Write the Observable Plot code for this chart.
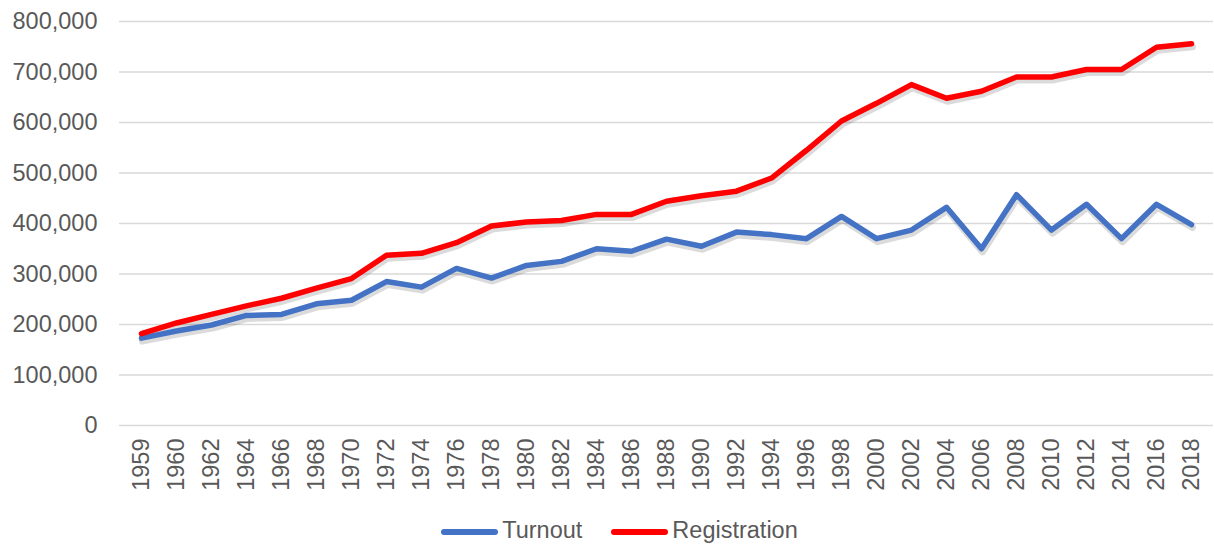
<!DOCTYPE html>
<html>
<head>
<meta charset="utf-8">
<script src="https://cdn.jsdelivr.net/npm/d3@7"></script>
<script src="https://cdn.jsdelivr.net/npm/@observablehq/plot@0.6"></script>
<style>
  html, body { margin: 0; padding: 0; background: #fff; }
  #chart { width: 1214px; }
  .legend { display: flex; justify-content: center; align-items: center; box-sizing: border-box; width: 1214px; height: 40px; padding-top: 10px; padding-left: 25px; font-family: "Liberation Sans", Arial, sans-serif; font-size: 23.5px; color: #595959; }
  .legend .item { display: flex; align-items: center; margin: 0 14.5px; }
  .legend .sw { width: 57px; height: 6px; border-radius: 3px; margin-right: 4px; margin-top: 3px; }
</style>
</head>
<body>
<div id="chart"></div>
<script>
const years = ["1959","1960","1962","1964","1966","1968","1970","1972","1974","1976","1978","1980","1982","1984","1986","1988","1990","1992","1994","1996","1998","2000","2002","2004","2006","2008","2010","2012","2014","2016","2018"];
const turnout = [173000,187000,199000,218000,220000,241000,248000,285000,274000,311000,292000,317000,325000,350000,345000,369000,355000,383000,378000,370000,414000,370000,387000,432000,350000,457000,387000,438000,370000,438000,398000];
const registration = [182000,203000,220000,237000,252000,272000,291000,337000,341000,362000,395000,403000,406000,418000,418000,444000,455000,464000,490000,545000,603000,638000,675000,648000,662000,690000,690000,705000,705000,749000,756000];
const seriesNames = ["Turnout", "Registration"];
const seriesColors = ["#4472C4", "#FF0000"];
const yTicks = [0,100000,200000,300000,400000,500000,600000,700000,800000];

const rows = [];
years.forEach((yr, i) => {
  rows.push({year: yr, value: turnout[i], series: seriesNames[0]});
  rows.push({year: yr, value: registration[i], series: seriesNames[1]});
});

const chart = Plot.plot({
  width: 1214,
  height: 505,
  marginTop: 21,
  marginBottom: 80,
  marginLeft: 119,
  marginRight: 1,
  style: { fontFamily: "'Liberation Sans', Arial, sans-serif", color: "#595959", background: "#fff" },
  x: { type: "point", domain: years, padding: 0.5 },
  y: { domain: [0, 800000], ticks: yTicks },
  color: { domain: seriesNames, range: seriesColors },
  marks: [
    Plot.ruleY(yTicks, { stroke: "#d9d9d9", strokeWidth: 1.5 }),
    Plot.axisY({ ticks: yTicks, tickSize: 0, tickPadding: 22, tickFormat: d3.format(","), fontSize: 23.5, label: null, fill: "#595959" }),
    Plot.axisX({ tickSize: 0, tickPadding: 13, tickRotate: -90, fontSize: 23.5, label: null, fill: "#595959" }),
    Plot.line(rows, { x: "year", y: "value", z: "series", stroke: "#000", strokeOpacity: 0.14, strokeWidth: 7, dx: 1, dy: 3, strokeLinejoin: "round", strokeLinecap: "round" }),
    Plot.line(rows, { x: "year", y: "value", z: "series", stroke: "series", strokeWidth: 5.5, strokeLinejoin: "round", strokeLinecap: "round" })
  ]
});
document.getElementById("chart").appendChild(chart);

const legend = document.createElement("div");
legend.className = "legend";
seriesNames.forEach((n, i) => {
  const it = document.createElement("div");
  it.className = "item";
  const sw = document.createElement("div");
  sw.className = "sw";
  sw.style.background = seriesColors[i];
  const t = document.createElement("span");
  t.textContent = n;
  it.appendChild(sw); it.appendChild(t);
  legend.appendChild(it);
});
document.body.appendChild(legend);
</script>
</body>
</html>
